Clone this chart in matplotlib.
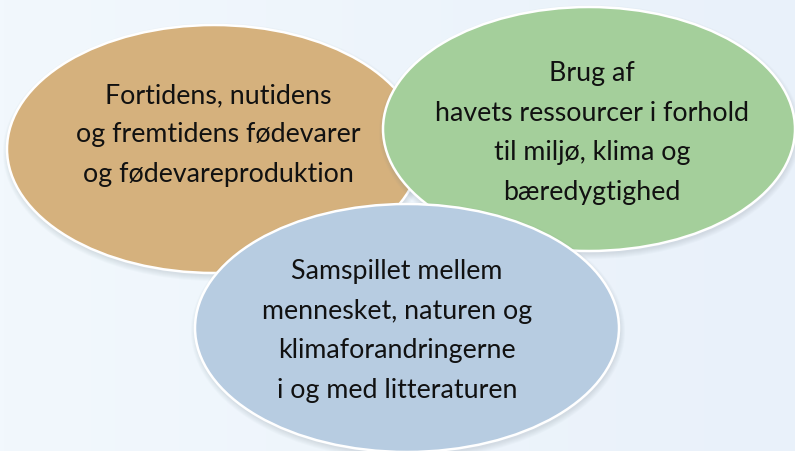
import numpy as np
import matplotlib
matplotlib.use("Agg")
import matplotlib.pyplot as plt
from matplotlib.patches import Ellipse

# Labels and colours of the three topic bubbles (drawn back to front)
labels = [
    "Fortidens, nutidens\nog fremtidens fødevarer\nog fødevareproduktion",
    "Brug af\nhavets ressourcer i forhold\ntil miljø, klima og\nbæredygtighed",
    "Samspillet mellem\nmennesket, naturen og\nklimaforandringerne\ni og med litteraturen",
]
colors = ["#D5B17D", "#A4CF9B", "#B7CCE1"]

W, H = 795, 452
fig = plt.figure(figsize=(W / 100, H / 100), dpi=100)
ax = fig.add_axes([0, 0, 1, 1])
ax.set_xlim(0, W)
ax.set_ylim(H, 0)
ax.axis("off")

# soft background gradient
gx = np.linspace(0, 1, 200)
grad = np.tile(gx, (50, 1))
bg = matplotlib.colors.LinearSegmentedColormap.from_list("bg", ["#F2F8FD", "#E9F1FA"])
ax.imshow(grad, cmap=bg, extent=[0, W, H, 0], aspect="auto", zorder=0)

centers = [(214, 150), (589, 130), (407, 329)]
sizes = [(414, 248), (412, 244), (424, 248)]
text_pos = [(218, 135), (592, 133), (397, 331)]

for i, (lab, col) in enumerate(zip(labels, colors)):
    cx, cy = centers[i]
    w, h = sizes[i]
    z = 2 + i * 3
    # soft shadow
    for k in range(6):
        ax.add_patch(Ellipse((cx + 1, cy + 3), w + 10 - k * 2, h + 10 - k * 2,
                             facecolor="#6a7a8a", edgecolor="none", alpha=0.03, zorder=z))
    ax.add_patch(Ellipse((cx, cy), w, h, facecolor=col, edgecolor="white",
                         linewidth=1.8, zorder=z + 1))
    ax.text(text_pos[i][0], text_pos[i][1], lab, ha="center", va="center",
            fontsize=19.3, family="Lato", linespacing=1.72, color="#111111", zorder=z + 2)

fig.savefig("out.png", dpi=100)
